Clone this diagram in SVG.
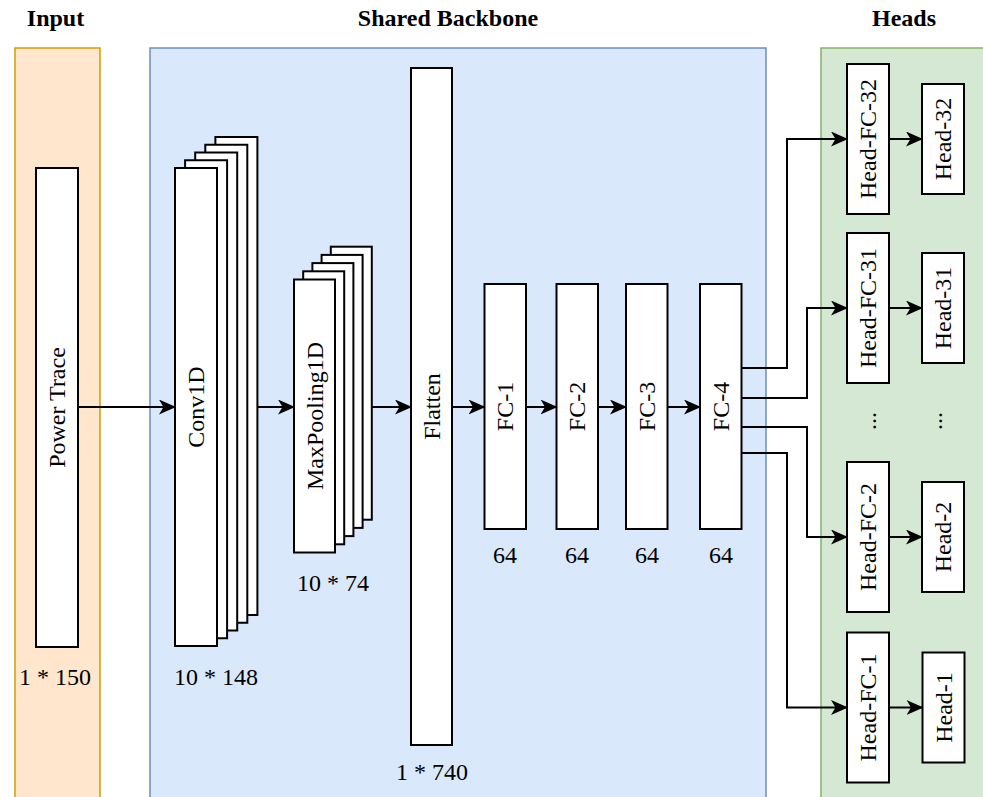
<svg xmlns="http://www.w3.org/2000/svg" width="983" height="797" viewBox="0 0 983 797">
<style>
.t{font-family:"Liberation Serif","Times New Roman",serif;font-size:24px;fill:#000;text-anchor:middle}
.b{font-weight:bold}
.v{dominant-baseline:central}
.box{fill:#fff;stroke:#000;stroke-width:2}
.c{fill:none;stroke:#000;stroke-width:2}
</style>
<defs>
<marker id="ah" markerUnits="userSpaceOnUse" viewBox="0 0 17 15" markerWidth="17" markerHeight="15" refX="16" refY="7.5" orient="auto">
<path d="M0,0 L17,7.5 L0,15 L4.5,7.5 Z" fill="#000"/>
</marker>
</defs>
<rect width="983" height="797" fill="#fff"/>
<g id="panel-input">
<rect x="15" y="48" width="85" height="760" fill="#ffe6cc" stroke="#d79b00" stroke-width="1.5"/>
<text class="t b" x="55.5" y="26">Input</text>
</g>
<g id="panel-backbone">
<rect x="150" y="48" width="616" height="760" fill="#dae8fc" stroke="#6c8ebf" stroke-width="1.5"/>
<text class="t b" x="448" y="26">Shared Backbone</text>
</g>
<g id="panel-heads">
<rect x="821" y="48" width="170" height="760" fill="#d5e8d4" stroke="#82b366" stroke-width="1.5"/>
<text class="t b" x="904" y="26">Heads</text>
</g>

<g id="power-trace">
<rect class="box" x="36" y="168" width="42" height="479"/>
<text class="t v" transform="translate(57,407.5) rotate(-90)">Power Trace</text>
<text class="t" x="55" y="685">1 * 150</text>
</g>
<g id="conv1d">
<rect class="box" x="215.4" y="137" width="42" height="478"/>
<rect class="box" x="205.3" y="144.75" width="42" height="478"/>
<rect class="box" x="195.2" y="152.5" width="42" height="478"/>
<rect class="box" x="185.1" y="160.25" width="42" height="478"/>
<rect class="box" x="175" y="168" width="42" height="478"/>
<text class="t v" transform="translate(196,407) rotate(-90)">Conv1D</text>
<text class="t" x="216" y="685">10 * 148</text>
</g>
<g id="maxpooling1d">
<rect class="box" x="330.8" y="246.7" width="41" height="273"/>
<rect class="box" x="321.6" y="254.9" width="41" height="273"/>
<rect class="box" x="312.4" y="263.1" width="41" height="273"/>
<rect class="box" x="303.2" y="271.3" width="41" height="273"/>
<rect class="box" x="294" y="279.5" width="41" height="273"/>
<text class="t v" transform="translate(314.5,416) rotate(-90)">MaxPooling1D</text>
<text class="t" x="333" y="591">10 * 74</text>
</g>
<g id="flatten">
<rect class="box" x="411" y="68" width="41" height="677"/>
<text class="t v" transform="translate(431.5,406.5) rotate(-90)">Flatten</text>
<text class="t" x="432" y="780">1 * 740</text>
</g>
<g id="fc1">
<rect class="box" x="484.5" y="284" width="41.5" height="245"/>
<text class="t v" transform="translate(505.25,406.5) rotate(-90)">FC-1</text>
<text class="t" x="505" y="563">64</text>
</g>
<g id="fc2">
<rect class="box" x="556.5" y="284" width="41.5" height="245"/>
<text class="t v" transform="translate(577.25,406.5) rotate(-90)">FC-2</text>
<text class="t" x="577" y="563">64</text>
</g>
<g id="fc3">
<rect class="box" x="626" y="284" width="41.5" height="245"/>
<text class="t v" transform="translate(646.75,406.5) rotate(-90)">FC-3</text>
<text class="t" x="647" y="563">64</text>
</g>
<g id="fc4">
<rect class="box" x="700" y="284" width="41.5" height="245"/>
<text class="t v" transform="translate(720.75,406.5) rotate(-90)">FC-4</text>
<text class="t" x="721" y="563">64</text>
</g>

<g id="head-fc-32">
<rect class="box" x="847" y="64" width="42" height="150"/>
<text class="t v" transform="translate(868,139) rotate(-90)">Head-FC-32</text>
</g>
<g id="head-32">
<rect class="box" x="922" y="84" width="42" height="110"/>
<text class="t v" transform="translate(943,139) rotate(-90)">Head-32</text>
</g>
<g id="head-fc-31">
<rect class="box" x="847" y="233" width="42" height="150"/>
<text class="t v" transform="translate(868,308) rotate(-90)">Head-FC-31</text>
</g>
<g id="head-31">
<rect class="box" x="922" y="253" width="42" height="110"/>
<text class="t v" transform="translate(943,308) rotate(-90)">Head-31</text>
</g>
<g id="ellipsis-fc">
<text class="t v" transform="translate(868,421) rotate(-90)">...</text>
</g>
<g id="ellipsis-head">
<text class="t v" transform="translate(933.5,421) rotate(-90)">...</text>
</g>
<g id="head-fc-2">
<rect class="box" x="847" y="462" width="42" height="150"/>
<text class="t v" transform="translate(868,537) rotate(-90)">Head-FC-2</text>
</g>
<g id="head-2">
<rect class="box" x="922" y="482" width="42" height="110"/>
<text class="t v" transform="translate(943,537) rotate(-90)">Head-2</text>
</g>
<g id="head-fc-1">
<rect class="box" x="847" y="632.5" width="42" height="150"/>
<text class="t v" transform="translate(868,707.5) rotate(-90)">Head-FC-1</text>
</g>
<g id="head-1">
<rect class="box" x="922.5" y="652.5" width="42" height="110"/>
<text class="t v" transform="translate(943.5,707.5) rotate(-90)">Head-1</text>
</g>

<g id="connectors" class="c">
<path class="c" d="M78,407 H175" marker-end="url(#ah)"/>
<path class="c" d="M257.4,407 H294" marker-end="url(#ah)"/>
<path class="c" d="M371.8,407 H411" marker-end="url(#ah)"/>
<path class="c" d="M452,407 H484.5" marker-end="url(#ah)"/>
<path class="c" d="M526,407 H556.5" marker-end="url(#ah)"/>
<path class="c" d="M598,407 H626" marker-end="url(#ah)"/>
<path class="c" d="M667.5,407 H700" marker-end="url(#ah)"/>
<path class="c" d="M741.5,368 H787 V139 H847" marker-end="url(#ah)"/>
<path class="c" d="M741.5,398 H807 V308 H847" marker-end="url(#ah)"/>
<path class="c" d="M741.5,427 H807 V537 H847" marker-end="url(#ah)"/>
<path class="c" d="M741.5,453 H787 V707.5 H847" marker-end="url(#ah)"/>
<path class="c" d="M889,139 H922" marker-end="url(#ah)"/>
<path class="c" d="M889,308 H922" marker-end="url(#ah)"/>
<path class="c" d="M889,537 H922" marker-end="url(#ah)"/>
<path class="c" d="M889,707.5 H922.5" marker-end="url(#ah)"/>
</g>
</svg>
